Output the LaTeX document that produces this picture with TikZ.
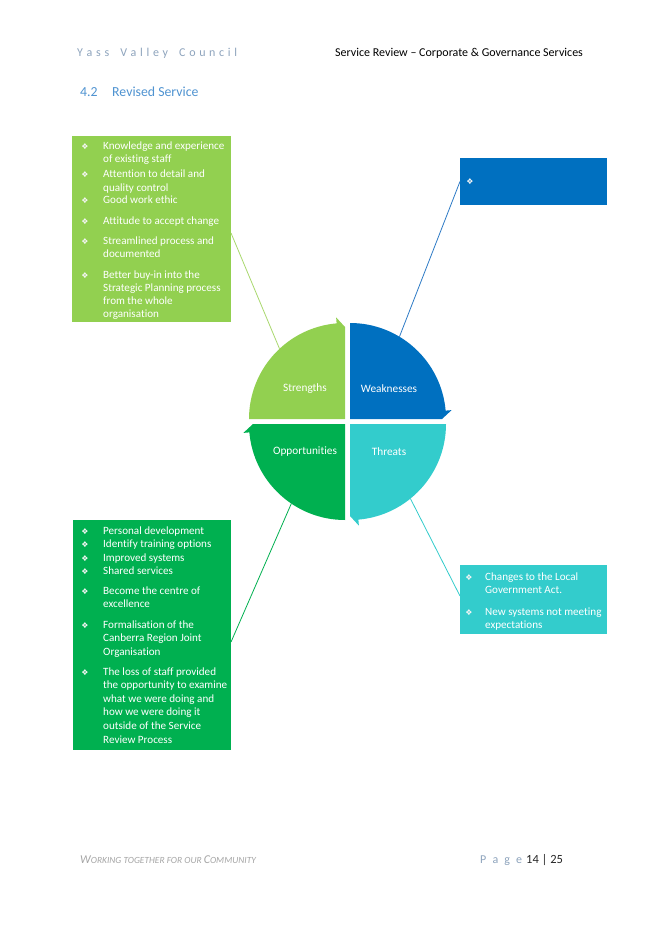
\documentclass[tikz,border=0pt]{standalone}
\usepackage{fontspec}
\setmainfont{Carlito}[Ligatures=NoCommon]
\newfontfamily\symfont{DejaVu Sans}
\usetikzlibrary{calc}
\definecolor{cstr}{HTML}{92D050}
\definecolor{cweak}{HTML}{0070C0}
\definecolor{copp}{HTML}{00B050}
\definecolor{cthr}{HTML}{33CCCC}
\definecolor{headgray}{HTML}{8EA4BD}
\definecolor{headblue}{HTML}{4F93D1}
\definecolor{footgray}{HTML}{A6A6A6}
\definecolor{lstr}{HTML}{A9D86E}
\definecolor{lweak}{HTML}{2E7BC6}
\newcommand\bitem[6]{%
  \node[bulstyle] (#1b) at (#2,#4) {\symfont\char"2756};
  \foreach \t [count=\i from 0] in {#6}{\node[itemtext] (#1l\i) at (#3,{#4+\i*#5}) {\t};}}
\begin{document}
\begin{tikzpicture}[x=1pt,y=-1pt,
  box/.style={anchor=north west,inner sep=0pt,outer sep=0pt},
  itemtext/.style={anchor=base west,inner sep=0pt,text=white,font=\fontsize{11.1}{13}\selectfont},
  bulstyle/.style={anchor=base,inner sep=0pt,text=white!92!gray,font=\fontsize{8}{9}\selectfont},
  qlabel/.style={text=white,inner sep=0pt,font=\fontsize{11.3}{13}\selectfont},
  conn/.style={line width=0.8pt}]
\useasboundingbox (0,0) rectangle (656,928);
\fill[white] (0,0) rectangle (656,928);

% header
\node[anchor=base west,inner sep=0pt,text=headgray,font=\fontsize{12}{14}\selectfont] (hleft) at (77,57)
  {\makebox[160pt][s]{Y\hfil a\hfil s\hfil s\hfil\hfil\hfil V\hfil a\hfil l\hfil l\hfil e\hfil y\hfil\hfil\hfil C\hfil o\hfil u\hfil n\hfil c\hfil i\hfil l}};
\node[anchor=base west,inner sep=0pt,font=\fontsize{12}{14}\selectfont] (hright) at (335,57)
  {Service Review – Corporate \& Governance Services};
\node[anchor=base west,inner sep=0pt,text=headblue,font=\fontsize{13.8}{16}\selectfont] (secnum) at (80,97) {4.2};
\node[anchor=base west,inner sep=0pt,text=headblue,font=\fontsize{13.8}{16}\selectfont] (sectitle) at (112,97) {Revised Service};

% boxes
\node[box,fill=cstr,minimum width=159pt,minimum height=186pt] (sbox) at (72,136) {};
\node[box,fill=cweak,minimum width=147pt,minimum height=47pt] (wbox) at (460,158) {};
\node[box,fill=copp,minimum width=158pt,minimum height=230pt] (obox) at (73,520) {};
\node[box,fill=cthr,minimum width=147pt,minimum height=69pt] (tbox) at (460,565) {};

% strengths items
\bitem{s1}{85}{103}{150}{13}{Knowledge and experience,of existing staff}
\bitem{s2}{85}{103}{178}{13}{Attention to detail and,quality control}
\bitem{s3}{85}{103}{204}{13}{Good work ethic}
\bitem{s4}{85}{103}{224}{13}{Attitude to accept change}
\bitem{s5}{85}{103}{244}{13}{Streamlined process and,documented}
\bitem{s6}{85}{103}{278}{13.3}{Better buy-in into the,Strategic Planning process,from the whole,organisation}

% weakness item
\node[bulstyle] (w1b) at (470,185) {\symfont\char"2756};

% opportunities items
\bitem{o1}{85}{103}{534}{13}{Personal development}
\bitem{o2}{85}{103}{547}{13}{Identify training options}
\bitem{o3}{85}{103}{561}{13}{Improved systems}
\bitem{o4}{85}{103}{574}{13}{Shared services}
\bitem{o5}{85}{103}{594}{13.5}{Become the centre of,excellence}
\bitem{o6}{85}{103}{628}{13.5}{Formalisation of the,Canberra Region Joint,Organisation}
\bitem{o7}{85}{103}{675}{13.6}{The loss of staff provided,the opportunity to examine,what we were doing and,how we were doing it,outside of the Service,Review Process}

% threats items
\bitem{t1}{469}{485}{580}{13}{Changes to the Local,Government Act.}
\bitem{t2}{469}{485}{615}{13}{New systems not meeting,expectations}

% circle of quadrants
\begin{scope}[shift={(347.5,421.5)},y=1pt]
  \begin{scope}[shift={(-2.5,2.5)}]
    \fill[cstr] (0,0) -- (180:96) arc[start angle=180,end angle=95,radius=96] -- (95:102) -- (90:92) -- cycle;
    \coordinate (sarc) at (133:96);
  \end{scope}
  \begin{scope}[shift={(2.5,2.5)}]
    \fill[cweak] (0,0) -- (90:96) arc[start angle=90,end angle=5,radius=96] -- (5:102) -- (0:92) -- cycle;
    \coordinate (warc) at (59:96);
  \end{scope}
  \begin{scope}[shift={(2.5,-2.5)}]
    \fill[cthr] (0,0) -- (0:96) arc[start angle=0,end angle=-85,radius=96] -- (-85:102) -- (-90:92) -- cycle;
    \coordinate (tarc) at (-51:96);
  \end{scope}
  \begin{scope}[shift={(-2.5,-2.5)}]
    \fill[copp] (0,0) -- (-90:96) arc[start angle=-90,end angle=-175,radius=96] -- (-175:102) -- (-180:92) -- cycle;
    \coordinate (oarc) at (-124:96);
  \end{scope}
\end{scope}

\node[qlabel] (qs) at (305,389) {Strengths};
\node[qlabel] (qw) at (389,389) {Weaknesses};
\node[qlabel] (qo) at (305,452) {Opportunities};
\node[qlabel] (qt) at (389,452) {Threats};

% connectors
\coordinate (sboxpt) at (231,233);
\coordinate (oboxpt) at (231,642);
\coordinate (tboxpt) at (460,596);
\draw[conn,lstr] (sboxpt) -- (sarc);
\draw[conn,lweak] (wbox.west) -- (warc);
\draw[conn,copp] (oboxpt) -- (oarc);
\draw[conn,cthr] (tboxpt) -- (tarc);

% footer
\node[anchor=base west,inner sep=0pt,text=footgray,font=\itshape] (fleft) at (80,863)
  {\fontsize{12}{14}\selectfont W\fontsize{9.4}{14}\selectfont ORKING TOGETHER FOR OUR \fontsize{12}{14}\selectfont C\fontsize{9.4}{14}\selectfont OMMUNITY};
\node[anchor=base west,inner sep=0pt,text=headgray,font=\fontsize{12}{14}\selectfont] (fpage) at (480,863)
  {\makebox[42pt][s]{P\hfil a\hfil g\hfil e}};
\node[anchor=base west,inner sep=0pt,text=black!85,font=\fontsize{12.5}{14}\selectfont] (fnum) at (526,863) {14 | 25};
\end{tikzpicture}
\end{document}
